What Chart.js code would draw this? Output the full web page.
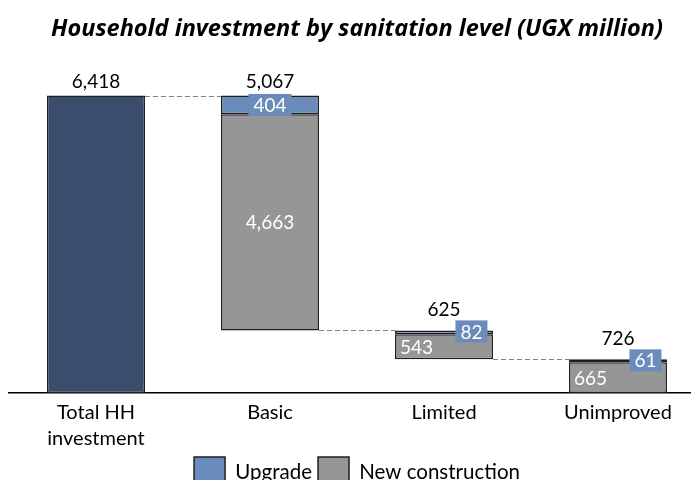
<!DOCTYPE html>
<html><head><meta charset="utf-8">
<script src="https://cdn.jsdelivr.net/npm/chart.js@4"></script>
<style>html,body{margin:0;padding:0;overflow:hidden;background:#fff;width:691px;height:480px}#wrap{width:714px;height:506px;position:relative}</style>
</head><body><div id="wrap"><canvas id="c"></canvas></div>
<script>
const categories = [["Total HH","investment"], "Basic", "Limited", "Unimproved"];
const totalInvestment = 6418;
const levelTotals = [null, 5067, 625, 726];
const upgradeValues = [null, 404, 82, 61];
const newConstructionValues = [null, 4663, 543, 665];

// build floating ranges for the waterfall
const totalData = [[0, totalInvestment], null, null, null];
const ncData = [null], upData = [null];
let running = totalInvestment;
for (let i = 1; i < categories.length; i++) {
  const start = running - levelTotals[i];
  ncData.push([start, start + newConstructionValues[i]]);
  upData.push([start + newConstructionValues[i], start + newConstructionValues[i] + upgradeValues[i]]);
  running = start;
}

const FONT = "Lato";
const C_TOTAL = "#3a4d6c", C_UP = "#6b8cba", C_NC = "#969696", C_BORDER = "#1e1e1e";

const fmt = v => v.toLocaleString("en-US");

const waterfallPlugin = {
  id: "waterfall",
  afterLayout(chart) {
    if (chart.legend) { chart.legend.top -= 8; chart.legend.bottom -= 8; }
  },
  beforeDatasetsDraw(chart) {
    const ctx = chart.ctx, x = chart.scales.x, y = chart.scales.y;
    const w = chart.getDatasetMeta(2).data[1].width;
    const tops = [totalInvestment];
    for (let i = 1; i < categories.length; i++) tops.push(upData[i][1]);
    ctx.save();
    ctx.strokeStyle = "#808080"; ctx.lineWidth = 1; ctx.setLineDash([5, 3]);
    for (let i = 0; i < categories.length - 1; i++) {
      const yy = Math.round(y.getPixelForValue(tops[i + 1])) + 0.5;
      ctx.beginPath();
      ctx.moveTo(x.getPixelForValue(i) + w / 2, yy);
      ctx.lineTo(x.getPixelForValue(i + 1) - w / 2, yy);
      ctx.stroke();
    }
    ctx.restore();
  },
  afterDatasetsDraw(chart) {
    const ctx = chart.ctx, x = chart.scales.x, y = chart.scales.y;
    const w = chart.getDatasetMeta(2).data[1].width;
    ctx.save();
    ctx.font = `19px ${FONT}`;
    ctx.textAlign = "center";
    const tops = [totalInvestment], totVals = [totalInvestment], smallUp = [false];
    for (let i = 1; i < categories.length; i++) {
      tops.push(upData[i][1]); totVals.push(levelTotals[i]);
      smallUp.push((y.getPixelForValue(upData[i][0]) - y.getPixelForValue(upData[i][1])) < 16);
    }
    ctx.fillStyle = "#000"; ctx.textBaseline = "alphabetic";
    for (let i = 0; i < categories.length; i++) {
      ctx.fillText(fmt(totVals[i]), x.getPixelForValue(i), y.getPixelForValue(tops[i]) - (smallUp[i] ? 14 : 8));
    }
    ctx.textBaseline = "middle";
    for (let i = 1; i < categories.length; i++) {
      const cx = x.getPixelForValue(i);
      const uTop = y.getPixelForValue(upData[i][1]), uBot = y.getPixelForValue(upData[i][0]);
      const nBot = y.getPixelForValue(ncData[i][0]);
      const small = smallUp[i];
      const ut = String(fmt(upgradeValues[i]));
      const tw = ctx.measureText(ut).width;
      const ux = small ? cx + w * 0.28 : cx;
      const uy = small ? uTop + 1 : (uTop + uBot) / 2;
      ctx.fillStyle = C_UP;
      ctx.fillRect(ux - tw / 2 - 5, uy - 11, tw + 10, 22);
      ctx.fillStyle = "#fff";
      ctx.fillText(ut, ux, uy + 1);
      const nx = small ? cx - w * 0.28 : cx;
      ctx.fillText(fmt(newConstructionValues[i]), nx, (uBot + nBot) / 2 + 1);
    }
    ctx.restore();
  }
};

new Chart(document.getElementById("c"), {
  type: "bar",
  data: {
    labels: categories,
    datasets: [
      { label: "Total", data: totalData, backgroundColor: C_TOTAL },
      { label: "Upgrade", data: upData, backgroundColor: C_UP },
      { label: "New construction", data: ncData, backgroundColor: C_NC }
    ]
  },
  options: {
    responsive: true, maintainAspectRatio: false, animation: false,
    layout: { padding: { left: 9, right: 9, top: 0, bottom: 0 } },
    datasets: { bar: { grouped: false, barPercentage: 0.563, categoryPercentage: 1, borderWidth: 1.5, borderColor: C_BORDER, borderSkipped: false } },
    plugins: {
      title: { display: true, text: "Household investment by sanitation level (UGX million)", font: { family: "Open Sans", size: 23.5, weight: "bold", style: "italic", lineHeight: 1.2 }, color: "#000", padding: { top: 15, bottom: 7 } },
      legend: { position: "bottom", labels: { filter: it => it.text !== "Total", font: { family: FONT, size: 20.5 }, color: "#000", boxWidth: 31, boxHeight: 31, padding: 6 } },
      tooltip: { enabled: false }
    },
    scales: {
      x: { grid: { display: false, drawTicks: false }, border: { display: true, color: "#000", width: 1.5 }, ticks: { font: { family: FONT, size: 20, lineHeight: 1.3 }, color: "#000", padding: 7 } },
      y: { display: false, min: 0, max: 7397 }
    }
  },
  plugins: [waterfallPlugin]
});
</script></body></html>
